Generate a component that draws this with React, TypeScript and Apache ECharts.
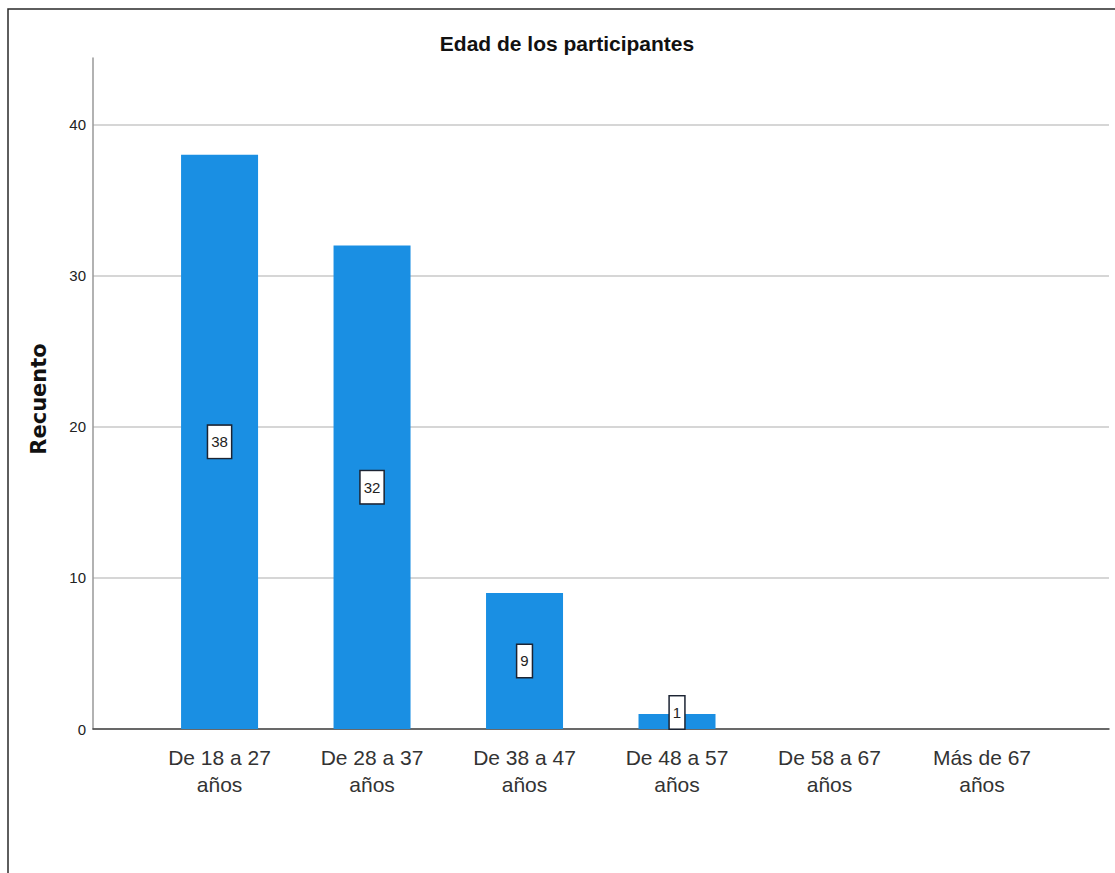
import React, { useEffect, useRef } from "react";
import * as echarts from "echarts";

const chartTitle = "Edad de los participantes";
const yAxisName = "Recuento";
const categories = [
  "De 18 a 27\naños",
  "De 28 a 37\naños",
  "De 38 a 47\naños",
  "De 48 a 57\naños",
  "De 58 a 67\naños",
  "Más de 67\naños",
];
const counts = [38, 32, 9, 1, 0, 0];
const yMin = 0;
const yMax = 44.4;
const yInterval = 10;

const SANS = '"Liberation Sans", Arial, sans-serif';

export default function App() {
  const ref = useRef<HTMLDivElement>(null);

  useEffect(() => {
    if (!ref.current) return;
    const chart = echarts.init(ref.current, null, { renderer: "svg" });
    const positions = categories.map((_, i) => i + 1);
    const option = {
      animation: false,
      backgroundColor: "#ffffff",
      title: {
        text: chartTitle,
        left: 562,
        top: 28,
        textAlign: "center",
        textStyle: {
          fontFamily: SANS,
          fontWeight: "bold",
          fontSize: 21,
          color: "#111",
        },
      },
      graphic: [
        {
          type: "rect",
          shape: { x: 8, y: 9, width: 1200, height: 1000 },
          style: { fill: "none", stroke: "#2a2a2a", lineWidth: 1.5 },
          silent: true,
        },
      ],
      grid: { left: 93, right: 6, top: 58, bottom: 144, containLabel: false },
      xAxis: {
        type: "value",
        min: 0.17,
        max: 6.833,
        axisLine: { show: true, onZero: false, lineStyle: { color: "#444", width: 1.5 } },
        axisTick: { show: false },
        splitLine: { show: false },
        axisLabel: {
          customValues: positions,
          formatter: (v: number) => categories[Math.round(v) - 1] ?? "",
          fontFamily: SANS,
          fontSize: 21,
          lineHeight: 27,
          color: "#333",
          margin: 15,
        },
      },
      yAxis: {
        type: "value",
        min: yMin,
        max: yMax,
        interval: yInterval,
        name: yAxisName,
        nameLocation: "middle",
        nameGap: 44,
        nameRotate: 90,
        nameTextStyle: {
          fontFamily: '"DejaVu Sans", sans-serif',
          fontWeight: "bold",
          fontSize: 21,
          color: "#111",
          padding: [0, 11, 0, 0],
        },
        axisLine: { show: true, onZero: false, lineStyle: { color: "#999", width: 1.5 } },
        axisTick: { show: false },
        axisLabel: {
          showMaxLabel: false,
          fontFamily: SANS,
          fontSize: 15,
          color: "#222",
          margin: 7,
        },
        splitLine: {
          show: true,
          showMaxLine: false,
          lineStyle: { color: "#c8c8c8", width: 1.5 },
        },
      },
      series: [
        {
          type: "bar",
          barWidth: 77,
          itemStyle: { color: "#1a8fe3" },
          label: {
            show: true,
            position: "inside",
            fontFamily: SANS,
            fontSize: 15,
            lineHeight: 18,
            color: "#222",
            backgroundColor: "#ffffff",
            borderColor: "#1c2433",
            borderWidth: 1.5,
            padding: [7, 3, 7, 3],
          },
          data: counts.map((v, i) => ({
            value: [positions[i], v],
            label: {
              show: v > 0,
              offset: v > 0 && v < 2 ? [0, -9] : [0, 0],
            },
          })),
        },
      ],
    };
    chart.setOption(option as any);
    return () => chart.dispose();
  }, []);

  return (
    <div
      ref={ref}
      style={{ position: "fixed", left: 0, top: 0, width: 1115, height: 873 }}
    />
  );
}
